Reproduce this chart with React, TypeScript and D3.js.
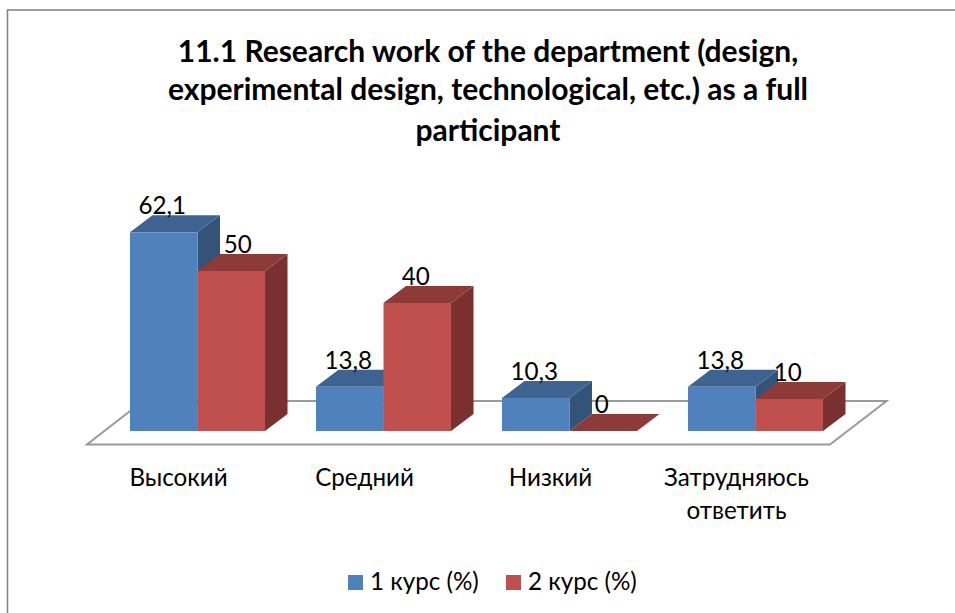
import React from "react";
import * as d3 from "d3";

const categories = ["Высокий", "Средний", "Низкий", "Затрудняюсь ответить"];
const course1 = [62.1, 13.8, 10.3, 13.8];
const course2 = [50, 40, 0, 10];
const seriesNames = ["1 курс (%)", "2 курс (%)"];
const labels1 = ["62,1", "13,8", "10,3", "13,8"];
const labels2 = ["50", "40", "0", "10"];
const titleLines = [
  "11.1 Research work of the department (design,",
  "experimental design, technological, etc.) as a full",
  "participant",
];
const categoryLines = [["Высокий"], ["Средний"], ["Низкий"], ["Затрудняюсь", "ответить"]];

const W = 955, H = 613;
const FONT = "Lato, 'Noto Sans', sans-serif";
const DX = 22.5, DY = -17;
const colors = [
  { front: "#4f81bd", top: "#3e6390", side: "#335478" },
  { front: "#c0504d", top: "#8e3a38", side: "#7a302e" },
];

const baseY = 431;
const y = d3.scaleLinear().domain([0, 62.1]).range([baseY, 232.3]);
const x = d3.scaleBand<number>().domain([0, 1, 2, 3]).range([130, 823]).paddingInner(0.274).paddingOuter(0);
const groupX = (i: number) => x(i) as number;

function Bar({ x0, w, v, c }: { x0: number; w: number; v: number; c: typeof colors[0] }) {
  const yt = y(v);
  const poly = (p: number[][]) => p.map((q) => q.join(",")).join(" ");
  return (
    <g>
      {v > 0 && <polygon points={poly([[x0 + w, yt], [x0 + w + DX, yt + DY], [x0 + w + DX, baseY + DY], [x0 + w, baseY]])} fill={c.side} />}
      <polygon points={poly([[x0, yt], [x0 + DX, yt + DY], [x0 + w + DX, yt + DY], [x0 + w, yt]])} fill={c.top} />
      {v > 0 && <rect x={x0} y={yt} width={w} height={baseY - yt} fill={c.front} />}
    </g>
  );
}

export default function App() {
  const w = x.bandwidth() / 2;
  const floor = [[87, 444.5], [830, 444.5], [886.5, 401], [143, 401]];
  return (
    <svg width={W} height={H} style={{ position: "absolute", left: 0, top: 0, background: "#fff" }} fontFamily={FONT}>
      <path d={`M7.5 ${H} V10 H955`} fill="none" stroke="#808080" strokeWidth={1.5} />
      {titleLines.map((t, i) => (
        <text key={i} x={488} y={[62, 100, 141][i]} textAnchor="middle" fontSize={30} fontWeight={700} fill="#000">{t}</text>
      ))}
      <polygon points={floor.map((p) => p.join(",")).join(" ")} fill="#fff" stroke="#9a9a9a" strokeWidth={2} />
      {categories.map((_, i) => (
        <g key={i}>
          <Bar x0={groupX(i)} w={w} v={course1[i]} c={colors[0]} />
          <Bar x0={groupX(i) + w} w={w} v={course2[i]} c={colors[1]} />
        </g>
      ))}
      {categories.map((_, i) => (
        <g key={i} fontSize={24.2} fill="#000" textAnchor="middle">
          <text x={groupX(i) + w / 2 - 1.5} y={y(course1[i]) - 18}>{labels1[i]}</text>
          <text x={groupX(i) + w * 1.5 - 1.5 + (i === 0 ? 8 : 0)} y={y(course2[i]) - 18}>{labels2[i]}</text>
        </g>
      ))}
      {categoryLines.map((ls, i) => ls.map((l, j) => (
        <text key={l} x={groupX(i) + w - 19} y={486 + j * 33} textAnchor="middle" fontSize={24.2} fill="#000">{l}</text>
      )))}
      {seriesNames.map((s, i) => (
        <g key={s}>
          <rect x={348 + i * 158} y={575} width={15} height={15} fill={colors[i].front} />
          <text x={370 + i * 158} y={590} fontSize={24.2} fill="#000">{s}</text>
        </g>
      ))}
    </svg>
  );
}
